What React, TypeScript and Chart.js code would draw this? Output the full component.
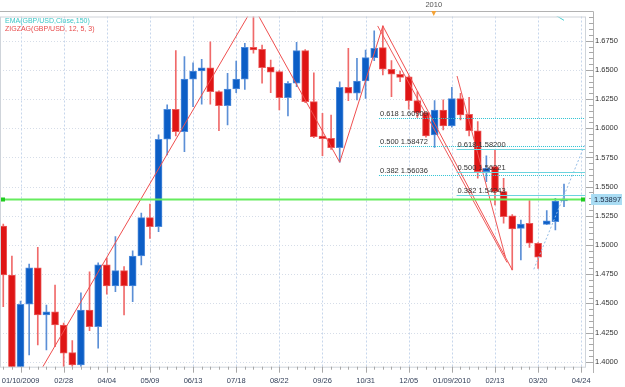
import React, { useEffect, useRef } from 'react';
import { Chart, registerables } from 'chart.js';

Chart.register(...registerables);

// ---- data (weekly GBP/USD candles, index 0 = week of 12/27/2008) ----
const opens = [1.5163,1.4743,1.3740,1.4492,1.4805,1.4400,1.4428,1.4314,1.4077,1.3972,
1.4443,1.4300,1.4829,1.4649,1.4780,1.4649,1.4906,1.5234,1.5157,1.5906,
1.6163,1.5971,1.6422,1.6491,1.6519,1.6314,1.6194,1.6337,1.6422,1.6694,
1.6677,1.6525,1.6485,1.6262,1.6386,1.6665,1.6228,1.5934,1.5914,1.5834,
1.6351,1.6300,1.6405,1.6605,1.6691,1.6506,1.6463,1.6442,1.6237,1.6134,
1.5943,1.6157,1.6020,1.6254,1.6120,1.5979,1.5628,1.5671,1.5457,1.5249,
1.5143,1.5186,1.5015,1.5177,1.5200,1.5377];
const highs = [1.5180,1.4906,1.4520,1.4837,1.4980,1.4486,1.4657,1.4330,1.4180,1.4591,
1.4771,1.4848,1.4886,1.5071,1.4814,1.4951,1.5274,1.5351,1.5943,1.6200,
1.6665,1.6614,1.6562,1.6591,1.6742,1.6320,1.6471,1.6577,1.6728,1.7043,
1.6714,1.6585,1.6495,1.6400,1.6737,1.6675,1.6476,1.6129,1.6114,1.6399,
1.6686,1.6600,1.6670,1.6836,1.6877,1.6580,1.6490,1.6450,1.6314,1.6140,
1.6237,1.6243,1.6351,1.6300,1.6266,1.6057,1.5763,1.5814,1.5572,1.5260,
1.5214,1.5380,1.5020,1.5294,1.5400,1.5523];
const lows = [1.4471,1.3503,1.3600,1.4057,1.4143,1.4100,1.4129,1.3900,1.3900,1.3940,
1.4266,1.4115,1.4578,1.4600,1.4400,1.4514,1.4829,1.5057,1.5114,1.5771,
1.5934,1.5800,1.6185,1.6206,1.6206,1.5979,1.6028,1.6305,1.6334,1.6643,
1.6386,1.6305,1.6157,1.6105,1.6356,1.6220,1.5920,1.5765,1.5820,1.5709,
1.6237,1.6243,1.6257,1.6579,1.6457,1.6271,1.6400,1.6163,1.6094,1.5923,
1.5837,1.5986,1.6010,1.6071,1.5934,1.5572,1.5542,1.5343,1.5186,1.4786,
1.4871,1.4980,1.4800,1.5175,1.5129,1.5328];
const closes = [1.4743,1.3740,1.4492,1.4805,1.4400,1.4428,1.4314,1.4072,1.3972,1.4443,
1.4300,1.4829,1.4649,1.4780,1.4649,1.4906,1.5234,1.5157,1.5906,1.6163,
1.5971,1.6422,1.6491,1.6519,1.6314,1.6194,1.6337,1.6422,1.6694,1.6671,
1.6519,1.6480,1.6262,1.6386,1.6665,1.6228,1.5928,1.5911,1.5834,1.6351,
1.6300,1.6405,1.6605,1.6686,1.6506,1.6463,1.6437,1.6237,1.6134,1.5934,
1.6157,1.6020,1.6254,1.6114,1.5979,1.5628,1.5657,1.5457,1.5243,1.5137,
1.5180,1.5015,1.4895,1.5206,1.5377,1.5390];

const tickIndex = [2,7,12,17,22,27,32,37,42,47,52,57,62,67];
const tickLabels = ['01/10/2009','02/28','04/04','05/09','06/13','07/18','08/22','09/26','10/31','12/05','01/09/2010','02/13','03/20','04/24'];
const yTicks = [1.4,1.425,1.45,1.475,1.5,1.525,1.55,1.575,1.6,1.625,1.65,1.675];

const emaX = [62,63,64,65];
const emaY = [1.7080,1.7025,1.6970,1.6925];
const zigX = [1,29,39,44,59];
const zigY = [1.3503,1.7043,1.5709,1.6877,1.4786];
const zig2X = [43.4,58.4];
const zig2Y = [1.6877,1.4850];
const zig3X = [52.6,58.2];
const zig3Y = [1.6448,1.4900];
const projX = [61.5,67.4];
const projY = [1.4792,1.5857];

const fibRatios = ['0.618','0.500','0.382'];
const fibSetA = [1.60909,1.58472,1.56036];
const fibSetB = [1.58200,1.56221,1.54243];
const fibStartA = 43.55;
const fibStartB = 52.55;
const lastPrice = 1.53897;
const yearLabel = '2010';
const yearIdx = 49.9;

const FONT = '"Liberation Sans", Arial, sans-serif';

const pts = (xs: number[], ys: number[]) => xs.map((v, i) => ({ x: v, y: ys[i] }));

const decor = {
  id: 'decor',
  beforeDraw(chart: any) {
    const { ctx, width, height } = chart;
    ctx.save();
    ctx.fillStyle = '#ffffff';
    ctx.fillRect(0, 0, width, height);
    ctx.restore();
  },
  beforeDatasetsDraw(chart: any) {
    const { ctx, chartArea: a, scales } = chart;
    const x = scales.x, y = scales.y;
    ctx.save();
    ctx.lineWidth = 1;
    ctx.strokeStyle = '#d6dde8';
    ctx.setLineDash([1, 2]);
    yTicks.forEach((v) => {
      const py = Math.round(y.getPixelForValue(v)) + 0.5;
      ctx.beginPath(); ctx.moveTo(a.left, py); ctx.lineTo(a.right, py); ctx.stroke();
    });
    ctx.strokeStyle = '#c6d6ec';
    ctx.setLineDash([2, 2]);
    tickIndex.forEach((i) => {
      const px = Math.round(x.getPixelForValue(i)) + 0.5;
      ctx.beginPath(); ctx.moveTo(px, a.top); ctx.lineTo(px, a.bottom); ctx.stroke();
    });
    ctx.restore();
  },
  afterDatasetsDraw(chart: any) {
    const { ctx, chartArea: a, scales } = chart;
    const x = scales.x, y = scales.y;
    ctx.save();
    ctx.lineWidth = 1;
    // fibonacci levels
    const drawFib = (vals: number[], start: number, dash: number[], color: string) => {
      const sx = x.getPixelForValue(start);
      vals.forEach((v, k) => {
        const py = Math.round(y.getPixelForValue(v)) + 0.5;
        ctx.strokeStyle = color;
        ctx.setLineDash(dash);
        ctx.beginPath(); ctx.moveTo(sx, py); ctx.lineTo(a.right, py); ctx.stroke();
        ctx.setLineDash([]);
        ctx.fillStyle = '#333333';
        ctx.font = '7.5px ' + FONT;
        ctx.textAlign = 'left';
        ctx.textBaseline = 'middle';
        ctx.fillText(fibRatios[k] + ' ' + v.toFixed(5), sx + 1, py - 4.5);
      });
    };
    drawFib(fibSetA, fibStartA, [1, 1], '#2ec3d3');
    drawFib(fibSetB, fibStartB, [], '#6cd4de');

    // last price line
    const gy = y.getPixelForValue(lastPrice);
    ctx.setLineDash([]);
    ctx.strokeStyle = '#66ec5e';
    ctx.lineWidth = 2;
    ctx.beginPath(); ctx.moveTo(a.left, gy); ctx.lineTo(a.right - 2, gy); ctx.stroke();
    ctx.fillStyle = '#1fcc1f';
    ctx.fillRect(a.left + 1, gy - 2, 4, 4);
    ctx.fillRect(a.right - 5, gy - 2, 4, 4);

    // frame
    ctx.lineWidth = 1;
    ctx.strokeStyle = '#cfd4da';
    ctx.strokeRect(a.left + 0.5, a.top + 0.5, a.right - a.left - 1, a.bottom - a.top);
    ctx.strokeStyle = '#b2b2b2';
    ctx.beginPath();
    ctx.moveTo(0, 11.5); ctx.lineTo(593.5, 11.5);
    ctx.moveTo(593.5, 11.5); ctx.lineTo(593.5, 373);
    ctx.stroke();

    // right axis ticks
    ctx.strokeStyle = '#a8a8a8';
    for (let v = 1.395; v <= 1.6955; v += 0.005) {
      const py = Math.round(y.getPixelForValue(v)) + 0.5;
      if (py < a.top || py > a.bottom) continue;
      const major = Math.abs(Math.round(v / 0.025) * 0.025 - v) < 1e-6;
      ctx.beginPath(); ctx.moveTo(major ? a.right : 589, py); ctx.lineTo(593.5, py); ctx.stroke();
    }
    // bottom axis ticks
    for (let i = 0; i <= 67; i++) {
      const px = Math.round(x.getPixelForValue(i)) + 0.5;
      const major = tickIndex.indexOf(i) >= 0;
      ctx.beginPath(); ctx.moveTo(px, a.bottom); ctx.lineTo(px, a.bottom + (major ? 6 : 3)); ctx.stroke();
    }

    // price box
    ctx.fillStyle = '#a9dcf3';
    ctx.fillRect(591, gy - 5.5, 31, 11);
    ctx.fillStyle = '#1c2a44';
    ctx.font = '7.5px ' + FONT;
    ctx.textAlign = 'left';
    ctx.textBaseline = 'middle';
    ctx.fillText(lastPrice.toFixed(5), 594, gy + 0.5);

    // year marker
    const yx = x.getPixelForValue(yearIdx);
    ctx.fillStyle = '#555555';
    ctx.textAlign = 'center';
    ctx.fillText(yearLabel, yx, 5);
    ctx.fillStyle = '#f3a236';
    ctx.beginPath(); ctx.moveTo(yx - 2.5, 11); ctx.lineTo(yx + 2.5, 11); ctx.lineTo(yx, 16); ctx.closePath(); ctx.fill();

    // legend text
    ctx.font = '7px ' + FONT;
    ctx.textAlign = 'left';
    ctx.fillStyle = '#3cc6c6';
    ctx.fillText('EMA(GBP/USD,Close,150)', 5, 21.5);
    ctx.fillStyle = '#e84a4a';
    ctx.fillText('ZIGZAG(GBP/USD, 12, 5, 3)', 5, 29);
    ctx.restore();
  },
};

export default function App() {
  const ref = useRef<HTMLCanvasElement | null>(null);
  useEffect(() => {
    if (!ref.current) return;
    const isUp = opens.map((o, i) => closes[i] >= o);
    const chart = new Chart(ref.current, {
      type: 'bar',
      data: {
        datasets: [
          {
            type: 'line',
            data: pts(zigX, zigY),
            borderColor: '#ef4f4f',
            borderWidth: 1,
            pointRadius: 0,
            order: 1,
          } as any,
          {
            type: 'line',
            data: pts(zig2X, zig2Y),
            borderColor: '#ef5a5a',
            borderWidth: 1,
            pointRadius: 0,
            order: 1,
          } as any,
          {
            type: 'line',
            data: pts(zig3X, zig3Y),
            borderColor: '#ef5a5a',
            borderWidth: 1,
            pointRadius: 0,
            order: 1,
          } as any,
          {
            type: 'line',
            data: pts(projX, projY),
            borderColor: '#94bde6',
            borderWidth: 1,
            borderDash: [2, 2],
            pointRadius: 0,
            order: 1,
          } as any,
          {
            type: 'line',
            data: pts(emaX, emaY),
            borderColor: '#48d0d0',
            borderWidth: 1,
            pointRadius: 0,
            order: 1,
          } as any,
          {
            type: 'bar',
            data: opens.map((o, i) => ({ x: i, y: [o, closes[i]] })),
            backgroundColor: isUp.map((u) => (u ? '#0c5ec6' : '#df1515')),
            borderColor: isUp.map((u) => (u ? '#4f8cdc' : '#ea5a5a')),
            borderWidth: 1,
            borderSkipped: false,
            barThickness: 7,
            minBarLength: 2,
            grouped: false,
            order: 2,
          } as any,
          {
            type: 'bar',
            data: lows.map((l, i) => ({ x: i, y: [l, highs[i]] })),
            backgroundColor: isUp.map((u) => (u ? '#5b8fd6' : '#f06a6a')),
            borderWidth: 0,
            barThickness: 1,
            grouped: false,
            order: 3,
          } as any,
        ],
      },
      options: {
        animation: false,
        responsive: false,
        devicePixelRatio: 1,
        layout: { padding: { top: 16.5, left: 0, right: 0, bottom: 0 } },
        plugins: { legend: { display: false }, tooltip: { enabled: false } },
        scales: {
          x: {
            type: 'linear',
            position: 'bottom',
            min: -0.38,
            max: 67.55,
            offset: false,
            grid: { display: false, drawTicks: false },
            border: { display: false },
            afterBuildTicks: (s: any) => { s.ticks = tickIndex.map((v) => ({ value: v })); },
            afterFit: (s: any) => { s.height = 20.3; s.paddingLeft = 0; s.paddingRight = 0; },
            ticks: {
              autoSkip: false,
              maxRotation: 0,
              padding: 9.5,
              color: '#34405a',
              font: { size: 7.5, family: FONT },
              callback: (_v: any, idx: number) => tickLabels[idx],
            },
          },
          y: {
            type: 'linear',
            position: 'right',
            min: 1.3957,
            max: 1.6958,
            grid: { display: false, drawTicks: false },
            border: { display: false },
            afterBuildTicks: (s: any) => { s.ticks = yTicks.map((v) => ({ value: v })); },
            afterFit: (s: any) => { s.width = 39; s.paddingTop = 0; s.paddingBottom = 0; },
            ticks: {
              padding: 9,
              color: '#333333',
              font: { size: 7.5, family: FONT },
              callback: (v: any) => Number(v).toFixed(4),
            },
          },
        },
      },
      plugins: [decor],
    });
    return () => chart.destroy();
  }, []);
  return (
    <div style={{ position: 'absolute', left: 0, top: 0, width: 625, height: 387 }}>
      <canvas ref={ref} width={625} height={387} style={{ display: 'block' }} />
    </div>
  );
}
